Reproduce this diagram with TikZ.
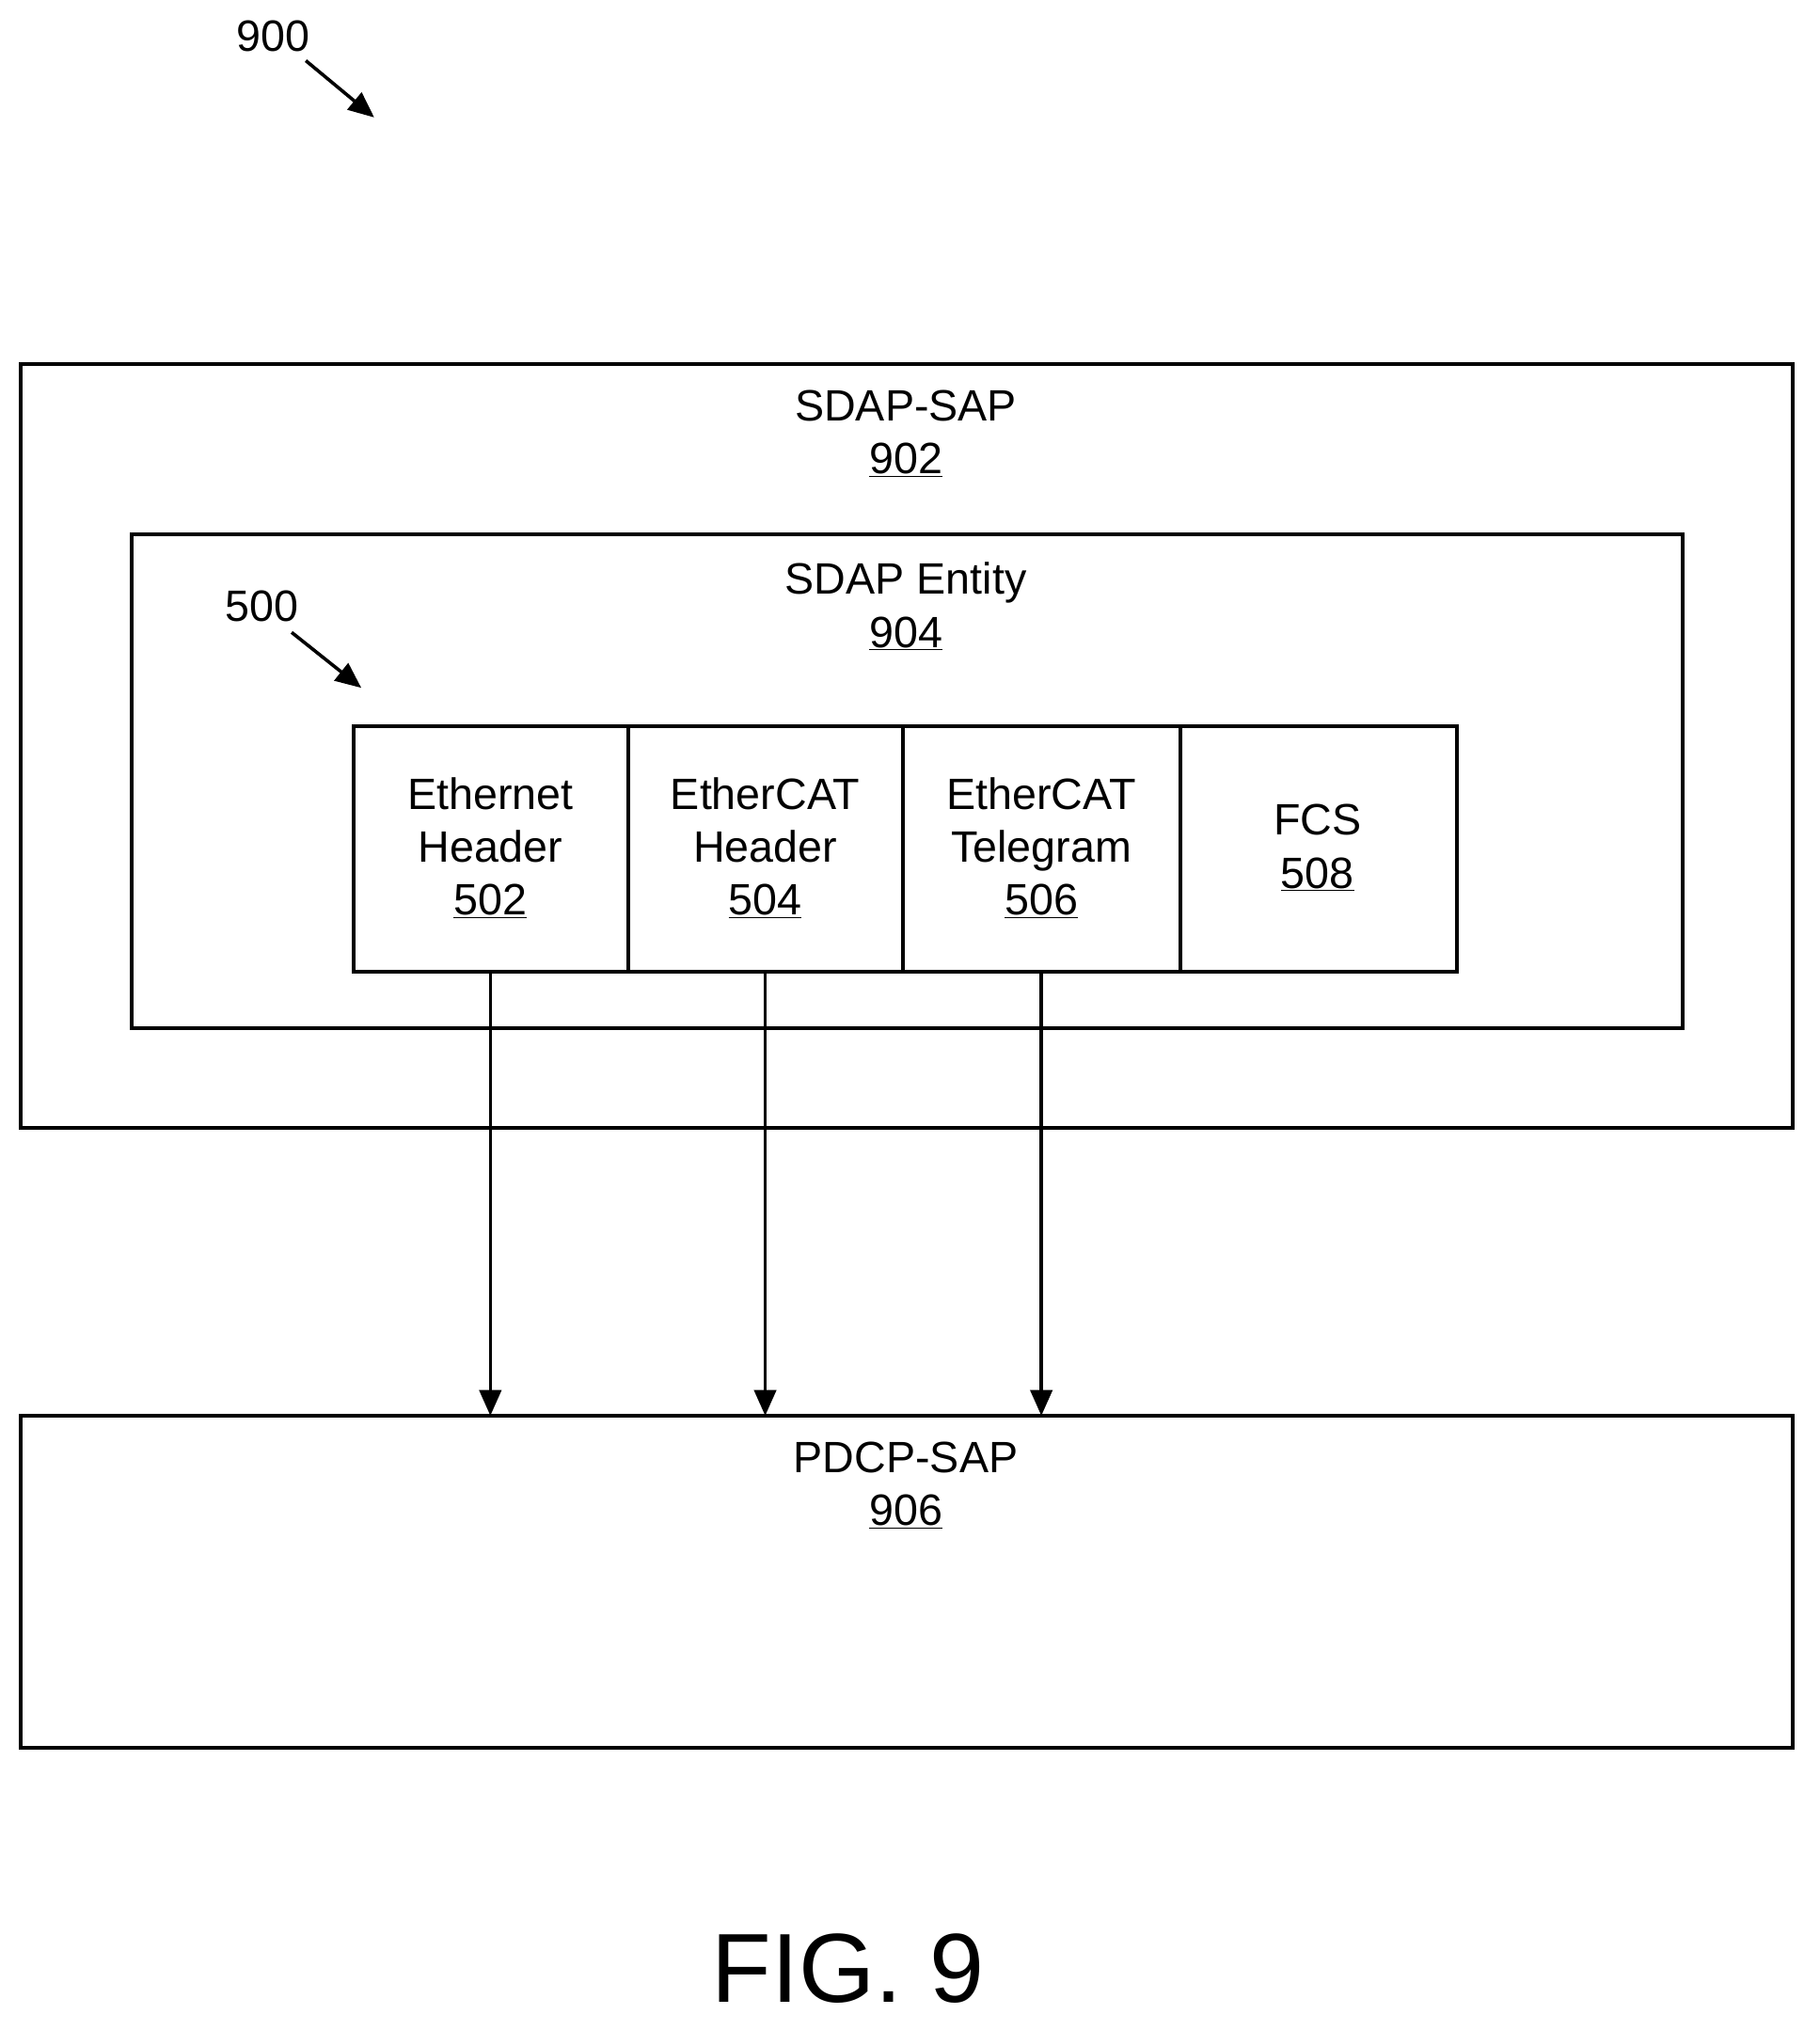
\documentclass[tikz,border=0pt]{standalone}
\usepackage{fontspec}
\setmainfont{Liberation Sans}
\usetikzlibrary{arrows.meta}
\begin{document}
\begin{tikzpicture}[x=1pt,y=-1pt,
  box/.style={draw,line width=3pt},
  lbl/.style={font=\fontsize{34}{41}\selectfont,align=center,inner sep=0},
  arr/.style={line width=2.6pt,-{Triangle[length=20pt,width=17pt]}}]
\useasboundingbox (0,0) rectangle (1410,1573);
\draw[box] (16,282) rectangle (1389,874);
\draw[box] (102,414) rectangle (1304,797);
\draw[box] (16,1097) rectangle (1389,1354);
\foreach \a/\b/\n in {274/487/c1,487/700/c2,700/915/c3,915/1129/c4}
  \draw[box] (\a,563) rectangle (\b,753) coordinate (\n);
\node[lbl] (t902) at (702,336) {SDAP-SAP\\\underline{902}};
\node[lbl] (t904) at (702,470) {SDAP Entity\\\underline{904}};
\node[lbl] (t502) at (380,657) {Ethernet\\Header\\\underline{502}};
\node[lbl] (t504) at (593,657) {EtherCAT\\Header\\\underline{504}};
\node[lbl] (t506) at (807,657) {EtherCAT\\Telegram\\\underline{506}};
\node[lbl] (t508) at (1021,657) {FCS\\\underline{508}};
\node[lbl] (t906) at (702,1151) {PDCP-SAP\\\underline{906}};
\coordinate (s1) at (380,753); \coordinate (e1) at (380,1097);
\coordinate (s2) at (593,753); \coordinate (e2) at (593,1097);
\coordinate (s3) at (807,753); \coordinate (e3) at (807,1097);
\draw[arr] (s1)--(e1); \draw[arr] (s2)--(e2); \draw[arr] (s3)--(e3);
\node[lbl] (n900) at (212,28) {900};
\coordinate (a1) at (237,47); \coordinate (a2) at (290,91);
\draw[arr] (a1)--(a2);
\node[lbl] (n500) at (203,470) {500};
\coordinate (b1) at (226,490); \coordinate (b2) at (280,533);
\draw[arr] (b1)--(b2);
\node[inner sep=0,font=\fontsize{76}{80}\selectfont] (fig) at (657,1525) {FIG. 9};
\end{tikzpicture}
\end{document}
